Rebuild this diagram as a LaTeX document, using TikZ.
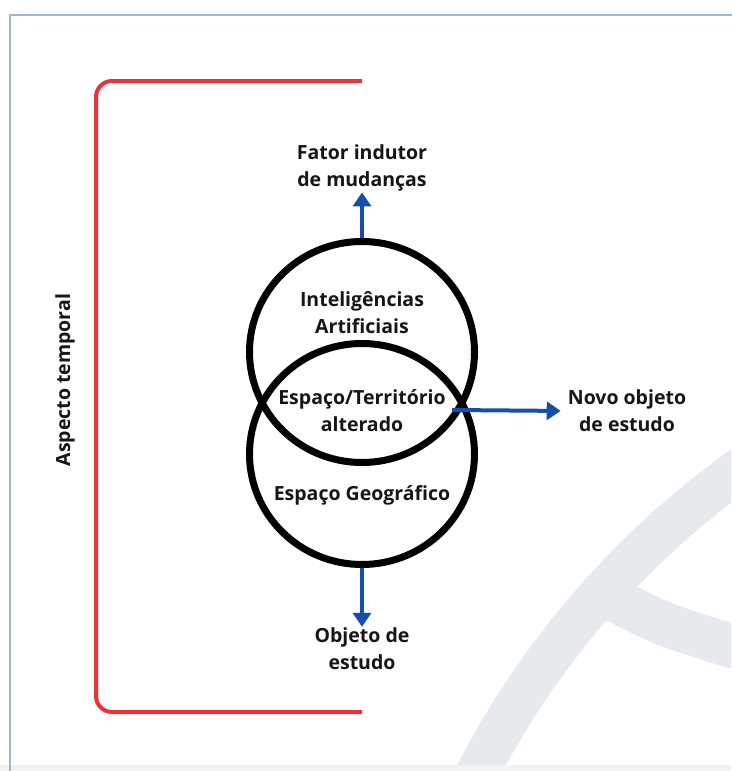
\documentclass[tikz,border=0pt]{standalone}
\usepackage{fontspec}
\setmainfont{Open Sans}
\usetikzlibrary{arrows.meta,shapes.geometric}
\definecolor{redline}{RGB}{232,52,58}
\definecolor{bluearr}{RGB}{22,78,170}
\definecolor{bggray}{RGB}{230,233,238}
\definecolor{framec}{RGB}{160,182,202}
\definecolor{txt}{RGB}{22,22,22}
\begin{document}
\begin{tikzpicture}[x=1pt,y=-1pt,
 lbl/.style={font=\fontsize{19.5}{27}\selectfont\bfseries, align=center, text=txt, inner sep=0pt},
 ring/.style={ellipse, draw=black, line width=7pt, minimum width=225pt, minimum height=221pt, inner sep=0pt},
 arr/.style={draw=bluearr, line width=4pt, -{Triangle[width=18pt,length=14pt]}},
 bracket/.style={draw=redline, line width=4pt, rounded corners=16pt}]
\useasboundingbox (0,0) rectangle (731,771);
\fill[white] (0,0) rectangle (731,771);
\begin{scope}
\clip (0,0) rectangle (731,765);
\draw[bggray, line width=43pt] (1242,1169) circle[radius=861pt];
\draw[bggray, line width=44pt] (596,590) .. controls (660,624) .. (745,650);
\end{scope}
\fill[black!5] (0,765) rectangle (731,771);
\draw[framec, line width=1.5pt] (10,771) -- (10,15) -- (735,15);
% bracket
\draw[bracket] (362,81) -- (96,81) -- (96,712) -- (362,712);
\node[lbl, rotate=90] (asp) at (65,380) {Aspecto temporal};
% rings
\node[ring] (ia) at (362,352) {};
\node[ring] (geo) at (362,454) {};
\node[lbl] (tia) at (362,313) {Inteligências\\Artificiais};
\node[lbl] (talt) at (362,411) {Espaço/Território\\alterado};
\node[lbl] (tgeo) at (362,495) {Espaço Geográfico};
% outer labels
\node[lbl] (fator) at (362,168) {Fator indutor\\de mudanças};
\node[lbl] (novo) at (627,411) {Novo objeto\\de estudo};
\node[lbl] (obj) at (362,649) {Objeto de\\estudo};
\coordinate (ix) at (452,410);
% arrows
\draw[arr, shorten >=1pt] (ia.north) -- (fator.south);
\draw[arr, shorten >=7pt] (ix) -- (novo.west);
\draw[arr, shorten >=1pt] (geo.south) -- (obj.north);
\end{tikzpicture}
\end{document}
